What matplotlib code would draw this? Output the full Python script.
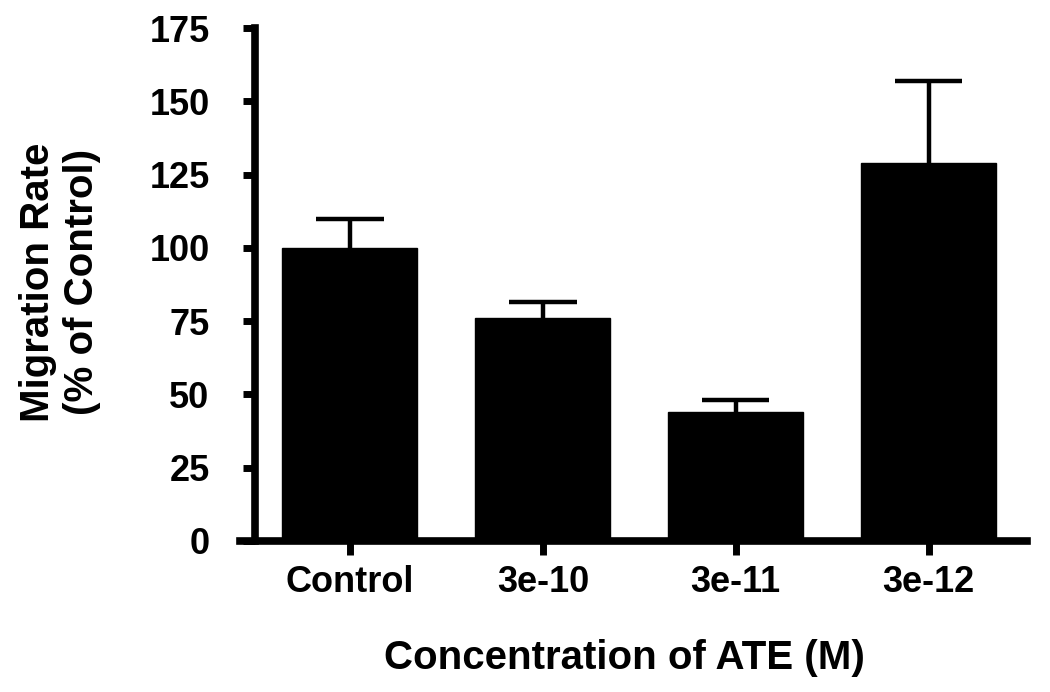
import matplotlib
matplotlib.use("Agg")
import matplotlib.pyplot as plt

categories = ["Control", "3e-10", "3e-11", "3e-12"]
means = [100, 76, 44, 129]
errors = [10, 5.5, 4, 28]
yticks = [0, 25, 50, 75, 100, 125, 150, 175]

plt.rcParams['font.family'] = ['Liberation Sans', 'DejaVu Sans']
plt.rcParams['font.weight'] = 'bold'

fig = plt.figure(figsize=(10.5, 6.92), dpi=100)
ax = fig.add_axes([240/1050, 151/692, 787/1050, 513/692])

x = list(range(len(categories)))
ax.bar(x, means, width=0.7, color='black', edgecolor='black', zorder=2)
tops = [m + e for m, e in zip(means, errors)]
ax.vlines(x, means, tops, colors='black', linewidth=3.2, zorder=1)
ax.hlines(tops, [xi - 0.175 for xi in x], [xi + 0.175 for xi in x],
          colors='black', linewidth=3.2, zorder=1)

ax.set_xlim(-0.57, 3.51)
ax.set_ylim(0, 175)
ax.spines['top'].set_visible(False)
ax.spines['right'].set_visible(False)
ax.spines['left'].set_position(('data', -0.49))
for s in ('left', 'bottom'):
    ax.spines[s].set_linewidth(5.5)
    ax.spines[s].set_capstyle('projecting')

ax.set_yticks(yticks)
ax.set_yticklabels([str(v) for v in yticks])
ax.set_xticks(x)
ax.set_xticklabels(categories)
ax.tick_params(axis='y', length=9, width=5, labelsize=26, pad=24)
ax.tick_params(axis='x', length=10, width=5, labelsize=26, pad=7)
for lab in ax.get_xticklabels() + ax.get_yticklabels():
    lab.set_fontweight('bold')

ax.set_ylabel("Migration Rate\n(% of Control)", fontsize=29, fontweight='bold',
              linespacing=1.2)
ax.yaxis.label.set_va('center')
ax.yaxis.set_label_coords(-0.229, 0.505)
ax.set_xlabel("Concentration of ATE (M)", fontsize=29, fontweight='bold')
ax.xaxis.label.set_va('center')
ax.xaxis.set_label_coords(0.488, -0.228)

fig.savefig("out.png", dpi=100)
